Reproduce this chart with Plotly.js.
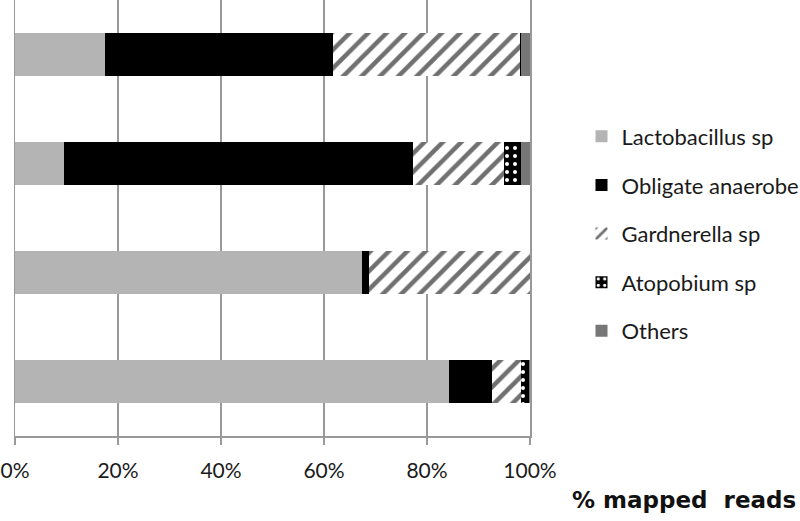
<!DOCTYPE html>
<html>
<head>
<meta charset="UTF-8">
<script src="https://cdn.plot.ly/plotly-3.0.1.min.js"></script>
<style>
  body { margin: 0; background: #fff; }
  #plot { width: 800px; height: 521px; }
</style>
</head>
<body>
<div id="plot"></div>
<script>
	// samples listed top to bottom as they appear
	var samples = ['S1', 'S2', 'S3', 'S4'];
	var groups = ['Lactobacillus sp', 'Obligate anaerobe', 'Gardnerella sp', 'Atopobium sp', 'Others'];

	// % mapped reads per group, one value per sample
	var lactobacillus = [17.5, 9.5, 67.4, 84.3];
	var obligate = [44.2, 67.8, 1.3, 8.3];
	var gardnerella = [36.3, 17.7, 31.3, 5.6];
	var atopobium = [0.3, 3.3, 0, 1.6];
	var others = [1.7, 1.7, 0, 0.2];

	var tickVals = [0, 20, 40, 60, 80, 100];

	var values = [lactobacillus, obligate, gardnerella, atopobium, others];
	var markers = [
		{color: '#b4b4b4'},
		{color: '#000000'},
		{color: '#ffffff', pattern: {shape: '/', fgcolor: '#707070', bgcolor: '#ffffff', size: 13, solidity: 0.35, fillmode: 'replace'}},
		{color: '#000000', pattern: {shape: '.', fgcolor: '#ffffff', bgcolor: '#000000', size: 8, solidity: 0.2, fillmode: 'replace'}},
		{color: '#777777'}
	];

	var data = [];
	for (var i = 0; i < groups.length; i++)
	{
		var m = markers[i];
		m.line = {width: 0};
		data.push({
			type: 'bar',
			orientation: 'h',
			x: values[i],
			y: samples,
			name: groups[i],
			legendgroup: 'g' + i,
			marker: m,
			hoverinfo: 'x+name'
		});
	}

	var layout =
	{
		width: 800,
		height: 521,
		margin: {l: 15, r: 270, t: 0, b: 85, autoexpand: false},
		paper_bgcolor: '#ffffff',
		plot_bgcolor: '#ffffff',
		font: {family: 'Lato, sans-serif', size: 21, color: '#1a1a1a'},
		barmode: 'stack',
		bargap: 0.6,
		showlegend: true,
		legend:
		{
			x: 1.1, xanchor: 'left',
			y: 0.735, yanchor: 'top',
			traceorder: 'grouped',
			tracegroupgap: 17,
			font: {size: 22, color: '#1a1a1a'},
			bgcolor: 'rgba(0,0,0,0)'
		},
		xaxis:
		{
			range: [0, 100],
			tickvals: tickVals,
			ticktext: tickVals.map(function(v) { return v + '%'; }),
			showgrid: true,
			gridcolor: '#999999',
			gridwidth: 1.5,
			zeroline: false,
			showline: true,
			linecolor: '#999999',
			linewidth: 1.5,
			ticks: 'outside',
			ticklen: 7,
			tickcolor: '#999999',
			tickwidth: 1.5,
			ticklabelstandoff: 8,
			tickfont: {size: 21, color: '#1a1a1a'}
		},
		yaxis:
		{
			type: 'category',
			range: [3.5, -0.5],
			showticklabels: false,
			showgrid: false,
			zeroline: false,
			showline: true,
			mirror: true,
			linecolor: '#999999',
			linewidth: 1.5,
			ticks: ''
		},
		annotations: [
			{
				text: '<b>% mapped&nbsp; reads</b>',
				xref: 'paper', yref: 'paper',
				x: 1.52, xanchor: 'right',
				y: -0.147, yanchor: 'middle',
				showarrow: false,
				font: {family: 'DejaVu Sans, sans-serif', size: 23, color: '#111111'}
			}
		]
	};

	Plotly.newPlot('plot', data, layout, {displayModeBar: false, staticPlot: true});
</script>
</body>
</html>
